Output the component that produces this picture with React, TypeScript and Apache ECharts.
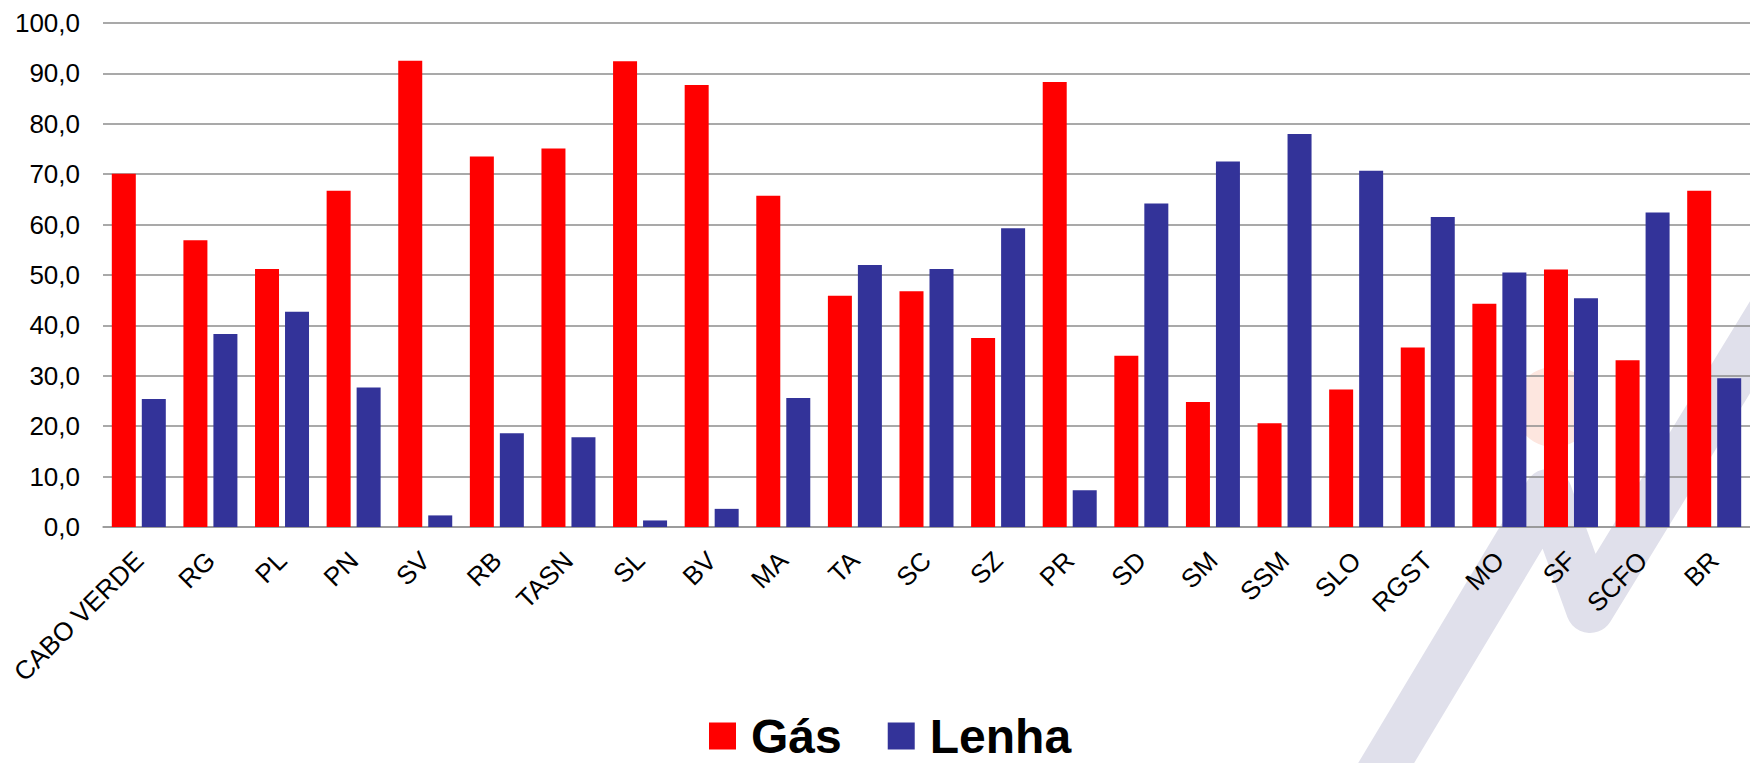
import React, { useEffect, useRef } from "react";
import * as echarts from "echarts";

const categories = [
  "CABO VERDE", "RG", "PL", "PN", "SV", "RB", "TASN", "SL", "BV", "MA", "TA", "SC",
  "SZ", "PR", "SD", "SM", "SSM", "SLO", "RGST", "MO", "SF", "SCFO", "BR",
];
const gasValues = [
  70.1, 56.9, 51.2, 66.7, 92.5, 73.5, 75.1, 92.4, 87.7, 65.7, 45.9, 46.8,
  37.5, 88.3, 34.0, 24.8, 20.6, 27.3, 35.6, 44.3, 51.1, 33.1, 66.7,
];
const lenhaValues = [
  25.4, 38.3, 42.7, 27.7, 2.3, 18.6, 17.8, 1.3, 3.6, 25.6, 52.0, 51.2,
  59.3, 7.3, 64.2, 72.5, 78.0, 70.7, 61.5, 50.5, 45.4, 62.4, 29.5,
];
const seriesNames = ["Gás", "Lenha"];

const FONT = "'Liberation Sans', Arial, Helvetica, sans-serif";

export default function App() {
  const ref = useRef<HTMLDivElement>(null);

  useEffect(() => {
    document.body.style.margin = "0";
    document.body.style.overflow = "hidden";
    if (!ref.current) return;
    const chart = echarts.init(ref.current, null, { renderer: "svg" });
    chart.setOption({
      animation: false,
      backgroundColor: "#ffffff",
      textStyle: { fontFamily: FONT },
      grid: { left: 103, top: 23, width: 1656, height: 504, containLabel: false },
      legend: {
        data: seriesNames,
        left: 709,
        top: 712,
        padding: 0,
        icon: "rect",
        itemWidth: 27,
        itemHeight: 27,
        itemGap: 46,
        textStyle: {
          fontFamily: FONT,
          fontSize: 48,
          fontWeight: "bold",
          color: "#000",
          padding: [0, 0, 0, 10],
        },
      },
      graphic: [
        {
          type: "circle",
          z: -10,
          shape: { cx: 1554, cy: 407, r: 40 },
          style: { fill: "#fde6df" },
        },
        {
          type: "polyline",
          z: -10,
          shape: {
            points: [
              [1364, 800],
              [1548, 493],
              [1590, 609],
              [1840, 200],
            ],
          },
          style: {
            fill: null,
            stroke: "#e0e0eb",
            lineWidth: 48,
            lineCap: "round",
            lineJoin: "round",
          },
        },
      ],
      xAxis: {
        type: "category",
        data: categories,
        axisTick: { show: false },
        axisLine: { lineStyle: { color: "#999999", width: 1.5 } },
        axisLabel: {
          interval: 0,
          rotate: 45,
          margin: 29,
          fontFamily: FONT,
          fontSize: 26,
          color: "#000",
        },
      },
      yAxis: {
        type: "value",
        min: 0,
        max: 100,
        interval: 10,
        axisLine: { show: false },
        axisTick: { show: false },
        splitLine: { lineStyle: { color: "#8c8c8c", width: 1.5 } },
        axisLabel: {
          margin: 23,
          fontFamily: FONT,
          fontSize: 26,
          color: "#000",
          formatter: (v: number) => v.toFixed(1).replace(".", ","),
        },
      },
      series: [
        {
          name: seriesNames[0],
          type: "bar",
          data: gasValues,
          barWidth: 24,
          barGap: "25%",
          itemStyle: { color: "#ff0000" },
        },
        {
          name: seriesNames[1],
          type: "bar",
          data: lenhaValues,
          barWidth: 24,
          barGap: "25%",
          itemStyle: { color: "#333399" },
        },
      ],
    });
    return () => chart.dispose();
  }, []);

  return (
    <div
      ref={ref}
      style={{ position: "absolute", left: 0, top: 0, width: 1750, height: 763 }}
    />
  );
}
